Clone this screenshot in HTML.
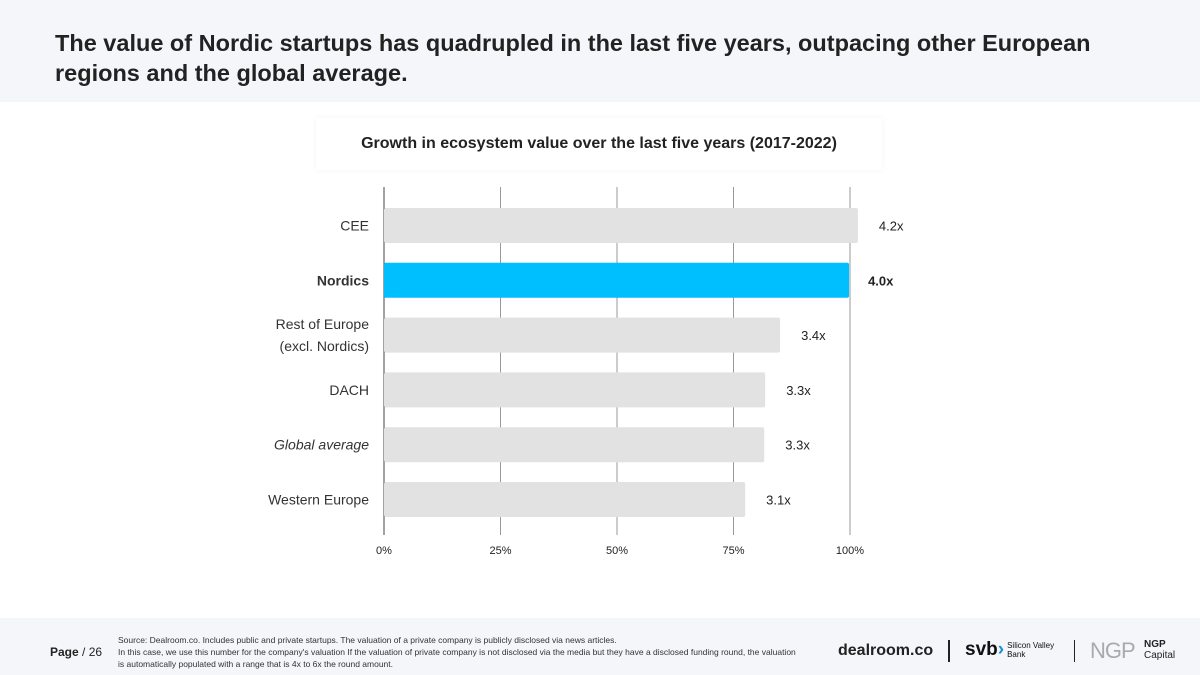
<!DOCTYPE html>
<html><head><meta charset="utf-8"><style>
body{margin:0;width:1200px;height:675px;overflow:hidden;background:#fff;font-family:"Liberation Sans",sans-serif;color:#222;position:relative}
.hdr{position:absolute;left:0;top:0;width:1200px;height:102px;background:#f5f6fa}
.hdr h1{position:absolute;left:55px;top:28px;margin:0;font-size:23.5px;line-height:30px;font-weight:bold;color:#222;width:1100px;letter-spacing:0px}
.ctitle{position:absolute;left:316px;top:118px;width:566px;height:52px;background:#fff;box-shadow:0 0 6px rgba(0,0,0,0.05);text-align:center;line-height:52px;font-weight:bold;font-size:16px}
.ftr{position:absolute;left:0;top:618px;width:1200px;height:57px;background:#f5f6fa}
.src{position:absolute;left:118px;top:634px;font-size:8.5px;line-height:12px;color:#333;width:680px}
.pg{position:absolute;left:50px;top:645px;font-size:12px}
</style></head><body>
<div class="hdr"><h1>The value of Nordic startups has quadrupled in the last five years, outpacing other European regions and the global average.</h1></div>
<div class="ctitle">Growth in ecosystem value over the last five years (2017-2022)</div>
<svg id="chart" width="1200" height="675" style="position:absolute;left:0;top:0"></svg>
<div class="ftr"></div>
<div class="pg"><b>Page</b> / 26</div>
<div class="src">Source: Dealroom.co. Includes public and private startups. The valuation of a private company is publicly disclosed via news articles.<br>In this case, we use this number for the company's valuation If the valuation of private company is not disclosed via the media but they have a disclosed funding round, the valuation is automatically populated with a range that is 4x to 6x the round amount.</div>
<div style="position:absolute;left:838px;top:642px;font-size:16px;font-weight:bold;color:#222">dealroom.co</div>
<div style="position:absolute;left:948px;top:640px;width:2px;height:22px;background:#222"></div>
<div style="position:absolute;left:965px;top:639px;font-size:19px;font-weight:bold;color:#111">svb<span style="color:#1a8fd6">›</span><span style="font-size:8px;font-weight:normal;display:inline-block;line-height:9px;vertical-align:middle;margin-left:3px">Silicon Valley<br>Bank</span></div>
<div style="position:absolute;left:1074px;top:640px;width:1px;height:22px;background:#222"></div>
<div style="position:absolute;left:1090px;top:638px;font-size:22px;color:#aaa;letter-spacing:-1px">NGP</div>
<div style="position:absolute;left:1144px;top:639px;font-size:10px;line-height:11px;color:#222"><b>NGP</b><br>Capital</div>
<script>
const categories=["CEE","Nordics","Rest of Europe|(excl. Nordics)","DACH","Global average","Western Europe"];
const values=[101.7,99.8,85.0,81.8,81.6,77.5];
const valueLabels=["4.2x","4.0x","3.4x","3.3x","3.3x","3.1x"];
const ticks=[0,25,50,75,100];
const tickLabels=["0%","25%","50%","75%","100%"];
const svg=document.getElementById('chart');const NS="http://www.w3.org/2000/svg";
const x=v=>384+v*4.66;const y=i=>208+i*54.8;const bh=35;
function el(t,a){const e=document.createElementNS(NS,t);for(const k in a)e.setAttribute(k,a[k]);svg.appendChild(e);return e;}
ticks.forEach((t,i)=>{
 const g=el('line',{x1:x(t),x2:x(t),y1:187,y2:535,stroke:i==0?'#444':'#999','stroke-width':1});
 
 
 const tl=el('text',{x:x(t),y:554,'text-anchor':'middle','font-size':11,fill:'#222','font-family':'Liberation Sans'});
 tl.textContent=tickLabels[i];
 
 
});
categories.forEach((c,i)=>{
 const hi=i==1;
 const r=el('rect',{x:384,y:y(i),width:x(values[i])-384,height:bh,fill:hi?'#00bfff':'#e2e2e2',rx:2});
 
 
 const vl=el('text',{x:x(values[i])+ (hi?19:21),y:y(i)+bh/2+5,'font-size':13,fill:'#222','font-weight':hi?'bold':'normal','font-family':'Liberation Sans'});
 vl.textContent=valueLabels[i];
 
 
 const parts=c.split('|');
 parts.forEach((p,j)=>{
  const t=el('text',{x:369,y:y(i)+bh/2+5+(parts.length>1?(j*22-11):0),'text-anchor':'end','font-size':14,fill:'#333','font-weight':hi?'bold':'normal','font-style':i==4?'italic':'normal','font-family':'Liberation Sans'});
  t.textContent=p;
  
  
 });
});
</script>
</body></html>
